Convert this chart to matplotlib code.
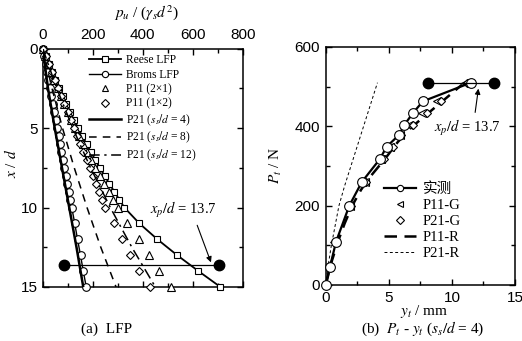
import matplotlib
matplotlib.use('Agg')
import matplotlib.pyplot as plt
from matplotlib.ticker import MultipleLocator
from matplotlib.lines import Line2D

plt.rcParams['font.family'] = ['Liberation Sans', 'DejaVu Sans']
plt.rcParams['mathtext.fontset'] = 'stix'
SERIF = ['Liberation Serif', 'Noto Sans CJK SC', 'DejaVu Serif']

# ---------------- (a) LFP data ----------------
depth = [0, 0.5, 1, 1.5, 2, 2.5, 3, 3.5, 4, 4.5, 5, 5.5, 6, 6.5, 7, 7.5, 8,
         8.5, 9, 9.5, 10, 11, 12, 13, 14, 15]
reese = [0, 12, 25, 38, 51, 65, 80, 95, 110, 125, 142, 158, 175, 192, 210,
         228, 247, 266, 286, 306, 326, 386, 458, 537, 622, 710]
broms = [0, 6, 12, 17, 23, 29, 35, 41, 46, 52, 58, 64, 70, 75, 81, 87, 93,
         99, 104, 110, 116, 128, 139, 151, 162, 174]
p11_2x1 = [0, 11, 23, 35, 47, 60, 73, 87, 101, 115, 130, 145, 161, 177, 193,
           210, 227, 245, 263, 281, 300, 336, 384, 424, 464, 512]
p11_1x2 = [0, 12, 25, 37, 50, 62, 75, 87, 100, 112, 125, 137, 150, 162, 175,
           187, 200, 212, 225, 237, 250, 284, 317, 350, 386, 427]
depth_line = [0, 2.5, 5, 7.5, 10, 12.5, 15]
p21_s4 = [0, 21, 48, 77, 106, 135, 162]
p21_s8 = [0, 37, 79, 126, 177, 232, 293]
p21_s12 = [0, 56, 120, 191, 270, 356, 450]
xp_depth = 13.6
xp_ends_a = [85, 705]

# ---------------- (b) Pt - yt data ----------------
P_meas = [0, 46, 109, 200, 260, 317, 349, 378, 403, 433, 463, 510]
y_meas = [0, 0.34, 0.82, 1.87, 2.87, 4.28, 4.84, 5.8, 6.22, 6.9, 7.7, 11.5]
P_G = [46, 109, 200, 260, 317, 349, 378, 403, 433, 463, 510]
y_p11g = [0.3, 0.65, 1.9, 3.1, 4.4, 5.1, 5.85, 6.6, 7.6, 8.8, 11.0]
y_p21g = [0.35, 0.75, 2.0, 3.2, 4.6, 5.3, 6.0, 6.9, 8.0, 9.1, 11.2]
y_p11r = [0, 0.5, 1.0, 1.5, 2.1, 2.8, 3.5, 4.7, 5.7, 6.7, 8.0, 9.2, 10.8]
P_p11r = [0, 62, 112, 155, 200, 240, 272, 318, 360, 395, 430, 462, 505]
y_p21r = [0, 0.2, 0.45, 0.75, 1.05, 1.5, 2.0, 2.5, 3.0, 3.5, 4.1]
P_p21r = [0, 50, 100, 150, 200, 250, 300, 350, 400, 450, 510]
P_xp = 510
y_xp_ends = [8.14, 13.36]

W, H = 522, 341
fig = plt.figure(figsize=(W / 100, H / 100), dpi=100)

def fx(p):
    return p / W

def fy(p):
    return 1 - p / H

ax1 = fig.add_axes([fx(42.7), fy(287), (243 - 42.7) / W, (287 - 48.5) / H])
ax2 = fig.add_axes([fx(325.7), fy(285), (515 - 325.7) / W, (285 - 47) / H])

for ax in (ax1, ax2):
    for s in ax.spines.values():
        s.set_linewidth(1.1)
    ax.tick_params(which='both', direction='in', top=True, bottom=True,
                   left=True, right=True, width=1.0, labelsize=11)
    ax.tick_params(which='major', length=4.5)
    ax.tick_params(which='minor', length=3)

# ---- panel (a)
mk = dict(mfc='white', mec='k', mew=0.8, clip_on=False)
ax1.plot(reese, depth, 'k-', lw=1.3, marker='s', ms=5, zorder=4, **mk)
ax1.plot(broms, depth, 'k-', lw=1.0, marker='o', ms=5.5, zorder=4, **mk)
ax1.plot(p11_2x1, depth, ls='none', marker='^', ms=6, zorder=4, **mk)
ax1.plot(p11_1x2, depth, ls='none', marker='D', ms=4.5, zorder=4, **mk)
ax1.plot(p21_s4, depth_line, 'k-', lw=1.8, zorder=5)
ax1.plot(p21_s8, depth_line, 'k', ls=(0, (5, 4)), lw=1.1, zorder=5)
ax1.plot(p21_s12, depth_line, 'k', ls=(0, (7, 3, 1.5, 3)), lw=1.1, zorder=5)
ax1.plot(xp_ends_a, [xp_depth, xp_depth], 'k-', lw=0.9, marker='o', ms=7.5,
         mfc='k', mec='k', zorder=6)
ax1.set_xlim(0, 800)
ax1.set_ylim(15, 0)
ax1.xaxis.set_major_locator(MultipleLocator(200))
ax1.xaxis.set_minor_locator(MultipleLocator(100))
ax1.yaxis.set_major_locator(MultipleLocator(5))
ax1.yaxis.set_minor_locator(MultipleLocator(2.5))
ax1.tick_params(labeltop=True, labelbottom=False)
ax1.tick_params(axis='x', pad=4.5)
ax1.tick_params(axis='y', pad=3.5)
ax1.annotate(r'$x_p/d$ = 13.7', xy=(672, 13.45), xytext=(561, 10.15),
             ha='center', va='center', fontsize=10.5, family=SERIF,
             arrowprops=dict(arrowstyle='-|>', color='k', lw=0.8,
                             mutation_scale=8, relpos=(0.68, 0), shrinkA=2,
                             shrinkB=0))

h1 = [Line2D([], [], color='k', lw=1.3, marker='s', ms=4.5, mfc='white', mec='k', mew=0.8),
      Line2D([], [], color='k', lw=1.0, marker='o', ms=4.5, mfc='white', mec='k', mew=0.8),
      Line2D([], [], ls='none', marker='^', ms=5, mfc='white', mec='k', mew=0.8),
      Line2D([], [], ls='none', marker='D', ms=4, mfc='white', mec='k', mew=0.8),
      Line2D([], [], color='k', lw=1.8),
      Line2D([], [], color='k', lw=1.1, ls=(0, (5, 4))),
      Line2D([], [], color='k', lw=1.1, ls=(0, (7, 3, 1.5, 3)))]
l1 = ['Reese LFP', 'Broms LFP', 'P11 (2×1)', 'P11 (1×2)',
      r'P21 ($s_s/d$ = 4)', r'P21 ($s_s/d$ = 8)', r'P21 ($s_s/d$ = 12)']
ax1.legend(h1, l1, loc='upper left', bbox_to_anchor=(fx(89), fy(54)),
           bbox_transform=fig.transFigure, frameon=False, borderpad=0,
           borderaxespad=0, handlelength=2.8, handletextpad=0.4,
           labelspacing=0.22, prop=dict(family=SERIF, size=8.3))

# ---- panel (b)
ax2.plot(y_p21r, P_p21r, 'k', ls=(0, (3, 2.5)), lw=0.7, zorder=3)
ax2.plot(y_p11r, P_p11r, 'k', ls=(0, (5, 3)), lw=1.8, zorder=3)
ax2.plot(y_meas, P_meas, 'k-', lw=1.6, marker='o', ms=7, zorder=5, **mk)
ax2.plot(y_p11g, P_G, ls='none', marker='<', ms=5.5, zorder=4, **mk)
ax2.plot(y_p21g, P_G, ls='none', marker='D', ms=4.5, zorder=4, **mk)
ax2.plot(y_xp_ends, [P_xp, P_xp], 'k-', lw=0.9, marker='o', ms=7.5,
         mfc='k', mec='k', zorder=6)
ax2.set_xlim(0, 15)
ax2.set_ylim(0, 600)
ax2.xaxis.set_major_locator(MultipleLocator(5))
ax2.xaxis.set_minor_locator(MultipleLocator(2.5))
ax2.yaxis.set_major_locator(MultipleLocator(200))
ax2.yaxis.set_minor_locator(MultipleLocator(100))
ax2.tick_params(axis='both', pad=4)
ax2.annotate(r'$x_p/d$ = 13.7', xy=(12.1, 495), xytext=(11.2, 396),
             ha='center', va='center', fontsize=10.5, family=SERIF,
             arrowprops=dict(arrowstyle='-|>', color='k', lw=0.8,
                             mutation_scale=8, relpos=(0.61, 1), shrinkA=2,
                             shrinkB=0))

h2 = [Line2D([], [], color='k', lw=1.6, marker='o', ms=4.5, mfc='white', mec='k', mew=0.8),
      Line2D([], [], ls='none', marker='<', ms=4.5, mfc='white', mec='k', mew=0.8),
      Line2D([], [], ls='none', marker='D', ms=4, mfc='white', mec='k', mew=0.8),
      Line2D([], [], color='k', lw=1.8, ls=(0, (5, 3))),
      Line2D([], [], color='k', lw=0.7, ls=(0, (3, 2.5)))]
l2 = ['实测', 'P11-G', 'P21-G', 'P11-R', 'P21-R']
ax2.legend(h2, l2, loc='upper left', bbox_to_anchor=(fx(384), fy(182)),
           bbox_transform=fig.transFigure, frameon=False, borderpad=0,
           borderaxespad=0, handlelength=2.2, handletextpad=0.45,
           labelspacing=0.2, prop=dict(family=SERIF, size=10.5))

# ---- labels and captions
fig.text(fx(147), fy(13), r'$p_u$ / ($\gamma_s d^2$)', ha='center', va='center',
         fontsize=11, family=SERIF)
fig.text(fx(11), fy(163), r'$x$ / $d$', ha='center', va='center', rotation=90,
         fontsize=11, family=SERIF)
fig.text(fx(276), fy(165), r'$P_t$ / N', ha='center', va='center', rotation=90,
         fontsize=11, family=SERIF)
fig.text(fx(424), fy(312), r'$y_t$ / mm', ha='center', va='center',
         fontsize=11, family=SERIF)
fig.text(fx(107), fy(329), '(a)  LFP', ha='center', va='center',
         fontsize=11, family=SERIF)
fig.text(fx(423), fy(329), r'(b)  $P_t$ - $y_t$ ($s_s/d$ = 4)', ha='center',
         va='center', fontsize=11, family=SERIF)

fig.savefig('out.png', dpi=100)
